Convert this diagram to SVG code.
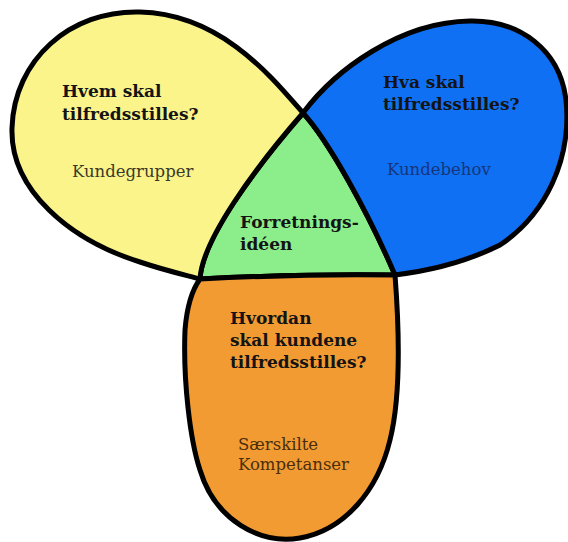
<svg xmlns="http://www.w3.org/2000/svg" width="568" height="542" viewBox="0 0 568 542">
<style>
.shape{stroke:#000;stroke-width:5;stroke-linejoin:round}
.h{font-family:"DejaVu Serif","Liberation Serif",serif;font-weight:bold;font-size:17px;fill:#141414}
.s{font-family:"DejaVu Serif","Liberation Serif",serif;font-size:16.5px}
</style>
<rect width="568" height="542" fill="#fff"/>
<g id="forretningsideen">
<path class="shape" fill="#8BEE8A" d="M303,113 C328,140 368,212 395,275 C340,274 260,276 200,279 C202,240 255,168 303,113 Z"/>
<text class="h" x="240" y="228">Forretnings-</text>
<text class="h" x="240" y="250">idéen</text>
</g>
<g id="kundegrupper">
<path class="shape" fill="#FAF48B" d="M303,113 C270,75 220,14 140,12 C70,10 14,60 12,128 C10,190 70,240 140,262 C170,272 190,276 200,279 C202,240 255,168 303,113 Z"/>
<text class="h" x="62" y="97">Hvem skal</text>
<text class="h" x="62" y="120">tilfredsstilles?</text>
<text class="s" x="72" y="177" fill="#3a3a28">Kundegrupper</text>
</g>
<g id="kundebehov">
<path class="shape" fill="#0F70F3" d="M303,113 C335,70 400,22 470,21 C520,20 560,50 566,100 C572,160 545,215 500,245 C460,265 420,272 395,275 C368,212 328,140 303,113 Z"/>
<text class="h" x="383" y="88">Hva skal</text>
<text class="h" x="383" y="110">tilfredsstilles?</text>
<text class="s" x="387" y="175" fill="#16357a">Kundebehov</text>
</g>
<g id="kompetanser">
<path class="shape" fill="#F29B33" d="M200,279 C260,276 340,274 395,275 C400,340 400,400 390,440 C378,490 345,530 300,538 C260,545 215,520 200,470 C190,440 183,380 185,330 C187,305 192,290 200,279 Z"/>
<text class="h" x="230" y="324">Hvordan</text>
<text class="h" x="230" y="346">skal kundene</text>
<text class="h" x="230" y="368">tilfredsstilles?</text>
<text class="s" x="238" y="450" fill="#4a2e0c">Særskilte</text>
<text class="s" x="238" y="470" fill="#4a2e0c">Kompetanser</text>
</g>
<g id="connectors"/>
</svg>
